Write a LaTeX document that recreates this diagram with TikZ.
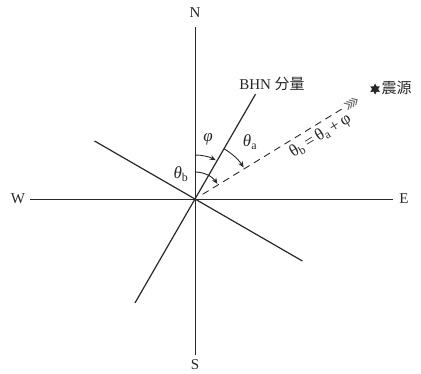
\documentclass[tikz,border=0pt]{standalone}
\usepackage{fontspec}
\setmainfont{Liberation Serif}
\newfontfamily\cjk{Noto Sans CJK SC}
\usepackage{tikz}
\usetikzlibrary{arrows.meta,shapes.geometric,calc}
\definecolor{inkgray}{RGB}{40,40,40}

\begin{document}
\begin{tikzpicture}[
  x=1pt, y=1pt,
  font=\fontsize{15}{18}\selectfont,
  axisline/.style={draw=inkgray, line width=0.8pt},
  bhnline/.style={draw=inkgray, line width=1.2pt},
  rayline/.style={draw=inkgray, line width=0.9pt, dash pattern=on 7pt off 5pt},
  azimarc/.style={draw=inkgray, line width=0.9pt, -{Stealth[length=6pt,width=5pt]}},
  dirlabel/.style={text=inkgray, inner sep=1pt},
  anglabel/.style={text=inkgray, inner sep=1pt, font=\fontsize{17}{20}\selectfont}
]
\useasboundingbox (-195,-175) rectangle (226,199);
% station and compass axes
\coordinate (O) at (0,0);
\coordinate (Ntip) at (0,172);
\coordinate (Stip) at (0,-156);
\coordinate (Wtip) at (-165,0);
\coordinate (Etip) at (198,0);
\node[dirlabel] (nlab) at (0,186) {N};
\node[dirlabel] (slab) at (0,-166) {S};
\node[dirlabel] (wlab) at (-177,0) {W};
\node[dirlabel] (elab) at (209,0) {E};
\draw[axisline] (Stip) -- (Ntip);
\draw[axisline] (Wtip) -- (Etip);
% horizontal components
\coordinate (bhnTop) at (60:121);
\coordinate (bhnBot) at (240:120);
\coordinate (perpL) at (150:116);
\coordinate (perpR) at (-30:124);
\draw[bhnline] (bhnBot) -- (bhnTop);
\draw[bhnline] (perpL) -- (perpR);
\node[dirlabel] (bhn) at (77,115) {BHN {\cjk 分量}};
% ray to source
\coordinate (rayStart) at (31.5:9);
\coordinate (rayEnd) at (31.5:177);
\draw[rayline] (rayStart) -- (rayEnd);
\begin{scope}[shift={(31.5:190)}, rotate=31.5]
  \foreach \i in {0,3,6,9}
    \draw[inkgray!70, line width=1pt] (-\i-4,4) -- (-\i,0) -- (-\i-4,-4);
\end{scope}
\node[star, star points=6, star point ratio=1.8, fill=inkgray, inner sep=0pt, minimum size=11pt] (src) at (31.4:211) {};
\node[dirlabel, anchor=west] (srclab) at ($(src.east)+(2,1)$) {\cjk 震源};
% angles
\draw[azimarc] (90:44) arc[start angle=90, end angle=62, radius=44];
\draw[azimarc] (60:58) arc[start angle=60, end angle=33, radius=58];
\draw[azimarc] (90:27) arc[start angle=90, end angle=34, radius=27];
\node[anglabel] (phi) at (13,60) {\textit{φ}};
\node[anglabel] (tha) at (55,57) {\textit{θ}\textsubscript{a}};
\node[anglabel] (thb) at (-14,25) {\textit{θ}\textsubscript{b}};
\node[anglabel, rotate=31.5, anchor=north, inner sep=4pt] (eq) at (31.5:140) {θ\textsubscript{b}\,=\,θ\textsubscript{a}\,+\,φ};
\end{tikzpicture}
\end{document}
